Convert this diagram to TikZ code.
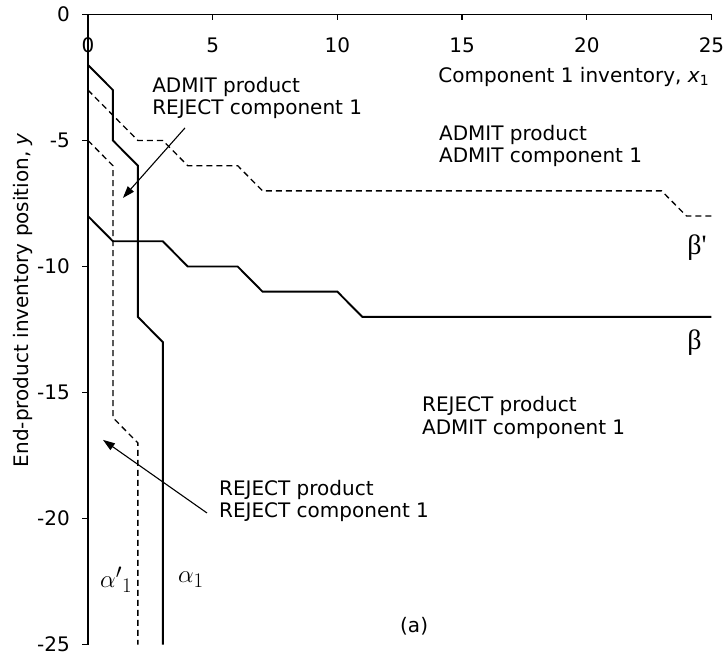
\documentclass[tikz,border=0pt]{standalone}
\usepackage{fontspec}
\setmainfont{DejaVu Sans}
\newfontfamily\greekserif{Liberation Serif}
\usetikzlibrary{arrows.meta}

\begin{document}
\begin{tikzpicture}[x=24.94pt, y=25.2pt,
  axisline/.style={line width=1.2pt},
  bound/.style={line width=1.9pt, line join=miter},
  boundalt/.style={line width=1.3pt, dash pattern=on 6pt off 4pt},
  pointer/.style={line width=1.1pt, -{Triangle[length=12pt,width=8pt]}},
  ticklab/.style={font=\fontsize{20}{23}\selectfont, inner sep=0pt},
  region/.style={align=left, anchor=north west, inner sep=0pt,
                 font=\fontsize{20}{22.7}\selectfont},
  curvelab/.style={inner sep=0pt, anchor=west},
]
% canvas
\fill[white] (-3.528,0.575) rectangle (25.662,-25.575);

% axes and ticks
\draw[axisline] (-0.24,0) -- (25,0);
\draw[axisline] (0,0) -- (0,-25);
\foreach \v in {5,10,...,25}
  \draw[axisline] (\v,0) -- (\v,-0.22);
\foreach \v in {5,10,...,25}
  \draw[axisline] (-0.24,-\v) -- (0,-\v);

% tick labels
\foreach \v in {0,5,10,...,25}
  \node[ticklab] (xl\v) at (\v,-1.21) {\v};
\node[ticklab, anchor=east] (yl0) at (-0.72,0) {0};
\foreach \v in {5,10,...,25}
  \node[ticklab, anchor=east] (yl\v) at (-0.72,-\v) {-\v};

% axis titles
\node[ticklab, anchor=base east] (xtitle) at (24.92,-2.68)
  {Component 1 inventory, \textit{x}\textsubscript{1}};
\node[ticklab, rotate=90] (ytitle) at (-2.61,-11.33)
  {End-product inventory position, \textit{y}};

% switching curves
\draw[bound] (0,-2) -- (1,-3) -- (1,-5) -- (2,-6) -- (2,-12) -- (3,-13) -- (3,-25);
\draw[boundalt] (0,-5) -- (1,-6) -- (1,-16) -- (2,-17) -- (2,-25);
\draw[boundalt] (0,-3) -- (2,-5) -- (3,-5) -- (4,-6) -- (6,-6) -- (7,-7)
  -- (23,-7) -- (24,-8) -- (25,-8);
\draw[bound] (0,-8) -- (1,-9) -- (3,-9) -- (4,-10) -- (6,-10) -- (7,-11)
  -- (10,-11) -- (11,-12) -- (25,-12);

% curve labels
\node[curvelab] (bp) at (24.02,-9.27) {\greekserif\fontsize{28}{30}\selectfont β'};
\node[curvelab] (b) at (24.02,-13.04) {\greekserif\fontsize{28}{30}\selectfont β};
\node[curvelab] (ap) at (0.48,-22.44) {\fontsize{24.88}{30}\selectfont $\alpha'{}_1$};
\node[curvelab] (a) at (3.61,-22.44) {\fontsize{24.88}{30}\selectfont $\alpha_1$};

% region labels
\node[region] (rA) at (2.57,-2.47) {ADMIT product\\REJECT component 1};
\node[region] (rB) at (14.07,-4.38) {ADMIT product\\ADMIT component 1};
\node[region] (rC) at (13.39,-15.16) {REJECT product\\ADMIT component 1};
\node[region] (rD) at (5.25,-18.46) {REJECT product\\REJECT component 1};
\node[ticklab, anchor=base west] (cap) at (12.51,-24.54) {(a)};

% pointers into the narrow regions
\coordinate (tailA) at (3.89,-4.50);
\coordinate (tipA) at (1.40,-7.28);
\coordinate (tailD) at (4.77,-19.78);
\coordinate (tipD) at (0.60,-16.88);
\draw[pointer] (tailA) -- (tipA);
\draw[pointer] (tailD) -- (tipD);
\end{tikzpicture}
\end{document}
